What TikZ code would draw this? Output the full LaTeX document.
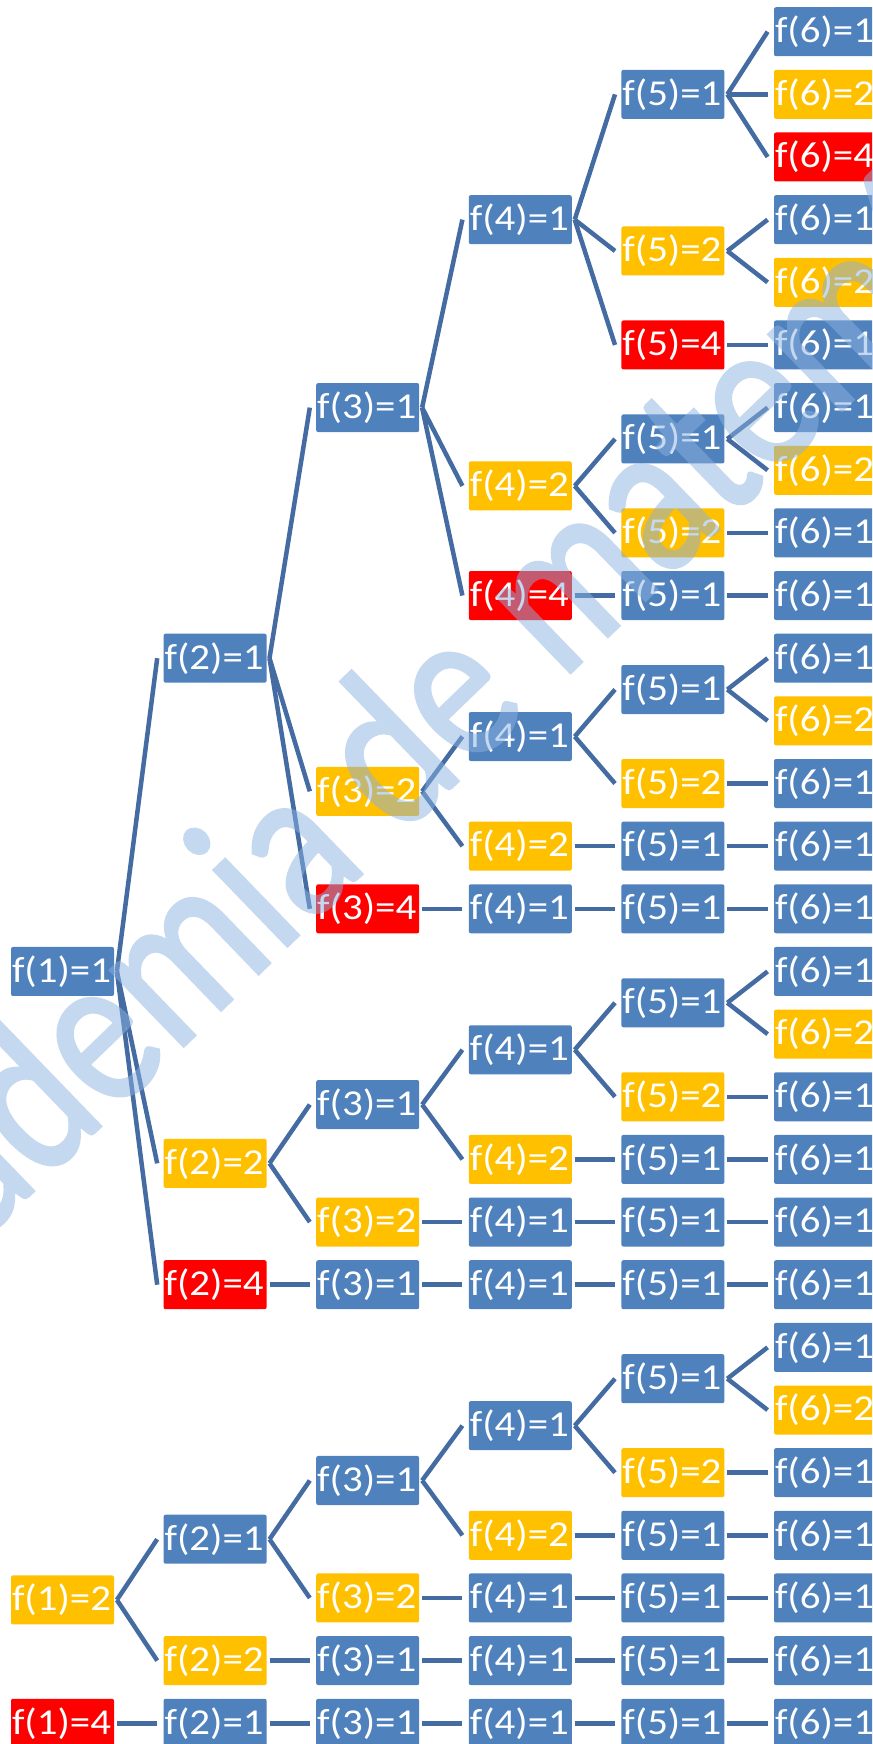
\documentclass[tikz,border=0pt]{standalone}
\usepackage{fontspec}
\setmainfont{Carlito}
\newfontfamily\boxfont{Carlito}[FakeStretch=1.12]
\newfontfamily\wmfont{Carlito}[FakeBold=1.6]
\definecolor{bl}{RGB}{79,129,189}
\definecolor{yl}{RGB}{255,192,0}
\definecolor{rd}{RGB}{255,0,0}
\definecolor{ln}{RGB}{68,108,163}
\definecolor{wm}{RGB}{139,178,224}
\newcommand\mynode[4]{\node[v#4] (#1) at ({-90.1+152.6*#2},{31.7+62.65*#3}) {f(#2)=#4};}
\newcommand\myedge[2]{\draw[conn] ([xshift=1.25pt]#1.east) -- ([xshift=-3pt]#2.west);}
\begin{document}
\begin{tikzpicture}[x=0.5pt,y=-0.5pt,
  box/.style={rounded corners=1pt, inner xsep=0.5pt, inner ysep=0pt,
    minimum height=24.5pt, text width=50.5pt, align=left, text=white,
    font=\boxfont\fontsize{18.25pt}{18.25pt}\selectfont},
  v1/.style={box, fill=bl},
  v2/.style={box, fill=yl},
  v4/.style={box, fill=rd},
  conn/.style={draw=ln, line width=2.25pt}]
\useasboundingbox (0,0) rectangle (872,1744);
\fill[white] (0,0) rectangle (872,1744);
\clip (0,0) rectangle (872,1744);
% level 1
\mynode{n1}{1}{15}{1}
\mynode{n2}{1}{25.03125}{2}
\mynode{n4}{1}{27}{4}
% level 2
\mynode{n11}{2}{10}{1}
\mynode{n12}{2}{18.0625}{2}
\mynode{n14}{2}{20}{4}
\mynode{n21}{2}{24.0625}{1}
\mynode{n22}{2}{26}{2}
\mynode{n41}{2}{27}{1}
% level 3
\mynode{n111}{3}{6}{1}
\mynode{n112}{3}{12.125}{2}
\mynode{n114}{3}{14}{4}
\mynode{n121}{3}{17.125}{1}
\mynode{n122}{3}{19}{2}
\mynode{n141}{3}{20}{1}
\mynode{n211}{3}{23.125}{1}
\mynode{n212}{3}{25}{2}
\mynode{n221}{3}{26}{1}
\mynode{n411}{3}{27}{1}
% level 4
\mynode{n1111}{4}{3}{1}
\mynode{n1112}{4}{7.25}{2}
\mynode{n1114}{4}{9}{4}
\mynode{n1121}{4}{11.25}{1}
\mynode{n1122}{4}{13}{2}
\mynode{n1141}{4}{14}{1}
\mynode{n1211}{4}{16.25}{1}
\mynode{n1212}{4}{18}{2}
\mynode{n1221}{4}{19}{1}
\mynode{n1411}{4}{20}{1}
\mynode{n2111}{4}{22.25}{1}
\mynode{n2112}{4}{24}{2}
\mynode{n2121}{4}{25}{1}
\mynode{n2211}{4}{26}{1}
\mynode{n4111}{4}{27}{1}
% level 5
\mynode{n11111}{5}{1}{1}
\mynode{n11112}{5}{3.5}{2}
\mynode{n11114}{5}{5}{4}
\mynode{n11121}{5}{6.5}{1}
\mynode{n11122}{5}{8}{2}
\mynode{n11141}{5}{9}{1}
\mynode{n11211}{5}{10.5}{1}
\mynode{n11212}{5}{12}{2}
\mynode{n11221}{5}{13}{1}
\mynode{n11411}{5}{14}{1}
\mynode{n12111}{5}{15.5}{1}
\mynode{n12112}{5}{17}{2}
\mynode{n12121}{5}{18}{1}
\mynode{n12211}{5}{19}{1}
\mynode{n14111}{5}{20}{1}
\mynode{n21111}{5}{21.5}{1}
\mynode{n21112}{5}{23}{2}
\mynode{n21121}{5}{24}{1}
\mynode{n21211}{5}{25}{1}
\mynode{n22111}{5}{26}{1}
\mynode{n41111}{5}{27}{1}
% level 6
\mynode{n111111}{6}{0}{1}
\mynode{n111112}{6}{1}{2}
\mynode{n111114}{6}{2}{4}
\mynode{n111121}{6}{3}{1}
\mynode{n111122}{6}{4}{2}
\mynode{n111141}{6}{5}{1}
\mynode{n111211}{6}{6}{1}
\mynode{n111212}{6}{7}{2}
\mynode{n111221}{6}{8}{1}
\mynode{n111411}{6}{9}{1}
\mynode{n112111}{6}{10}{1}
\mynode{n112112}{6}{11}{2}
\mynode{n112121}{6}{12}{1}
\mynode{n112211}{6}{13}{1}
\mynode{n114111}{6}{14}{1}
\mynode{n121111}{6}{15}{1}
\mynode{n121112}{6}{16}{2}
\mynode{n121121}{6}{17}{1}
\mynode{n121211}{6}{18}{1}
\mynode{n122111}{6}{19}{1}
\mynode{n141111}{6}{20}{1}
\mynode{n211111}{6}{21}{1}
\mynode{n211112}{6}{22}{2}
\mynode{n211121}{6}{23}{1}
\mynode{n211211}{6}{24}{1}
\mynode{n212111}{6}{25}{1}
\mynode{n221111}{6}{26}{1}
\mynode{n411111}{6}{27}{1}
% edges
\foreach \p/\c in {n1/n11,n1/n12,n1/n14,n2/n21,n2/n22,n4/n41,
  n11/n111,n11/n112,n11/n114,n12/n121,n12/n122,n14/n141,n21/n211,n21/n212,n22/n221,n41/n411,
  n111/n1111,n111/n1112,n111/n1114,n112/n1121,n112/n1122,n114/n1141,n121/n1211,n121/n1212,
  n122/n1221,n141/n1411,n211/n2111,n211/n2112,n212/n2121,n221/n2211,n411/n4111,
  n1111/n11111,n1111/n11112,n1111/n11114,n1112/n11121,n1112/n11122,n1114/n11141,
  n1121/n11211,n1121/n11212,n1122/n11221,n1141/n11411,n1211/n12111,n1211/n12112,
  n1212/n12121,n1221/n12211,n1411/n14111,n2111/n21111,n2111/n21112,n2112/n21121,
  n2121/n21211,n2211/n22111,n4111/n41111,
  n11111/n111111,n11111/n111112,n11111/n111114,n11112/n111121,n11112/n111122,
  n11114/n111141,n11121/n111211,n11121/n111212,n11122/n111221,n11141/n111411,
  n11211/n112111,n11211/n112112,n11212/n112121,n11221/n112211,n11411/n114111,
  n12111/n121111,n12111/n121112,n12112/n121121,n12121/n121211,n12211/n122111,
  n14111/n141111,n21111/n211111,n21111/n211112,n21112/n211121,n21121/n211211,
  n21211/n212111,n22111/n221111,n41111/n411111}
  {\myedge{\p}{\c}}
% watermark
\begin{scope}[transparency group, opacity=0.5]
\node[rotate=44, anchor=base west, inner sep=0pt, text=wm,
  font=\wmfont\fontsize{110pt}{110pt}\selectfont] (wmk) at (-150,1368)
  {\scalebox{0.82}[1]{Academia de matemáticas}};
\end{scope}
\end{tikzpicture}
\end{document}
